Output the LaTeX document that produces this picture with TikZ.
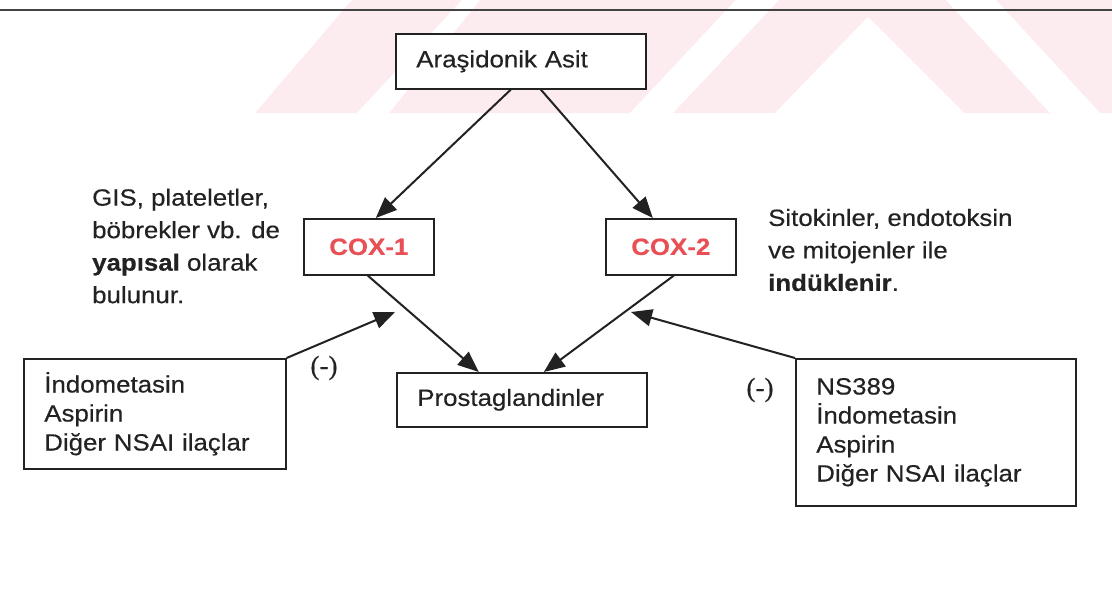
\documentclass[tikz,border=0pt]{standalone}
\usepackage{fontspec}
\setmainfont[FakeStretch=1.1,FakeBold=0.35]{Liberation Sans}
\newfontfamily\parenfont[FakeBold=0.3]{Liberation Serif}
\usetikzlibrary{arrows.meta,calc}
\definecolor{ink}{RGB}{34,34,34}
\definecolor{coxred}{RGB}{232,80,86}
\definecolor{wm}{RGB}{253,236,239}
\begin{document}
\begin{tikzpicture}[x=1pt,y=-1pt,
  txt/.style={font=\fontsize{23.5}{29}\selectfont, text=ink},
  note/.style={font=\fontsize{23.5}{32.5}\selectfont, text=ink, align=left, inner sep=0pt, anchor=west},
  box/.style={draw=ink, line width=1.6pt, fill=white, txt, anchor=north west},
  leftbox/.style={box, align=left, inner xsep=20.5pt},
  coxbox/.style={box, font=\fontsize{23.5}{29}\selectfont\bfseries, text=coxred, minimum width=130pt, minimum height=56pt},
  paren/.style={font=\parenfont\fontsize{27}{30}\selectfont, text=ink, inner sep=0pt},
  arr/.style={draw=ink, line width=2pt, -{Triangle[length=21pt,width=17pt]}},
]
\useasboundingbox (0,0) rectangle (1112,589);
\fill[white] (0,0) rectangle (1112,589);
% watermark
\begin{scope}
\clip (0,0) rectangle (1112,113);
\fill[wm] (255,113) -- (352,0) -- (1112,0) -- (1112,113) -- cycle;
\fill[white] (357,113) -- (389,113) -- (480,0) -- (462,0) -- cycle;
\fill[white] (630,113) -- (673,113) -- (779,0) -- (736,0) -- cycle;
\fill[white] (775,113) -- (868,17) -- (964,113) -- cycle;
\fill[white] (946,0) -- (996,0) -- (1100,113) -- (1050,113) -- cycle;
\end{scope}
% top rule
\draw[line width=2.2pt, draw=ink!85] (0,10) -- (1112,10);
% boxes
\node[leftbox, minimum width=250pt, minimum height=55pt, text width=209pt] (ara) at (395,33) {Araşidonik Asit};
\node[coxbox] (c1) at (303,218) {COX-1};
\node[coxbox] (c2) at (605,218) {COX-2};
\node[leftbox, minimum width=250pt, minimum height=54pt, text width=209pt] (pg) at (396,372) {Prostaglandinler};
\node[leftbox, minimum width=262pt, minimum height=110pt, text width=221pt] (lb) at (23,358) {İndometasin\\Aspirin\\Diğer NSAI ilaçlar};
\node[leftbox, minimum width=280pt, minimum height=147pt, text width=239pt] (rb) at (795,358) {NS389\\İndometasin\\Aspirin\\Diğer NSAI ilaçlar};
% notes
\node[note] (n1) at (92,246) {GIS, plateletler,\\böbrekler vb. de\\\textbf{yapısal} olarak\\bulunur.};
\node[note] (n2) at (768,250) {Sitokinler, endotoksin\\ve mitojenler ile\\\textbf{indüklenir}.};
\node[paren] (m1) at (324,368) {(-)};
\node[paren] (m2) at (760,390) {(-)};
% connectors
\draw[arr] ([xshift=-10pt]ara.south) -- ([xshift=7pt]c1.north);
\draw[arr] ([xshift=20pt]ara.south) -- ([xshift=-18pt]c2.north);
\draw[arr] ([xshift=-1pt]c1.south) -- ([xshift=-43pt]pg.north);
\draw[arr] ([xshift=3pt]c2.south) -- ([xshift=22pt]pg.north);
\coordinate (t1) at (395,312);
\coordinate (t2) at (631,312);
\draw[arr] (lb.north east) -- (t1);
\draw[arr] (rb.north west) -- (t2);
\end{tikzpicture}
\end{document}
